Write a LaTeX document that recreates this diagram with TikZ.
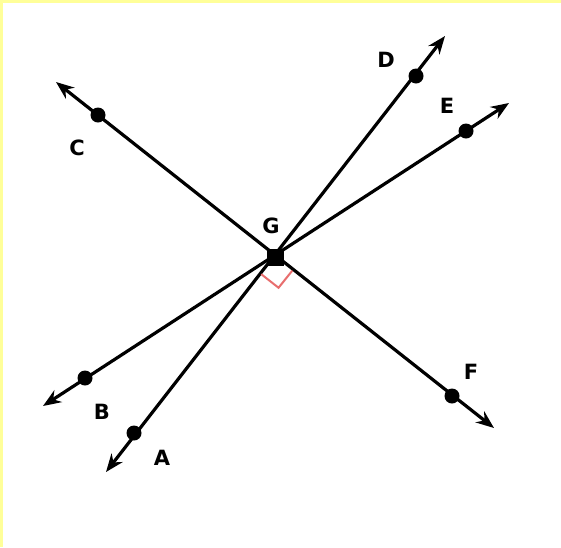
\documentclass[tikz,border=0pt]{standalone}
\usepackage{fontspec}
\setsansfont{DejaVu Sans}
\usepackage{xcolor}
\usepackage{tikz}
\usetikzlibrary{arrows.meta,calc}

\definecolor{frame}{RGB}{255,255,153}
\definecolor{rmark}{RGB}{232,110,110}

\begin{document}
\begin{tikzpicture}[x=1pt,y=-1pt,>={Stealth[length=18pt,width=14pt]}]
  \tikzstyle{ray}=[draw,line width=3.2pt,<->]
  \tikzstyle{dot}=[circle,fill=black,inner sep=0pt,minimum size=15pt]
  \tikzstyle{lbl}=[font=\sffamily\bfseries\fontsize{21}{23}\selectfont,inner sep=0pt]
  % background and yellow frame
  \fill[white] (0,0) rectangle (561,547);
  \fill[frame] (0,0) rectangle (561,3);
  \fill[frame] (0,0) rectangle (3,547);
  \useasboundingbox (0,0) rectangle (561,547);
  % arrow ends
  \coordinate (tC) at (56,82);
  \coordinate (tF) at (494,428);
  \coordinate (tD) at (445,36);
  \coordinate (tA) at (106,472);
  \coordinate (tE) at (509,103);
  \coordinate (tB) at (43,406);
  \draw[ray] (tC) -- (tF);
  \draw[ray] (tA) -- (tD);
  \draw[ray] (tB) -- (tE);
  % points
  \node[fill=black,minimum size=17pt,inner sep=0pt] (G) at (275,257) {};
  \node[dot] (C) at (98,115) {};
  \node[dot] (D) at (416,76) {};
  \node[dot] (E) at (466,131) {};
  \node[dot] (F) at (452,396) {};
  \node[dot] (B) at (85,378) {};
  \node[dot] (A) at (134,433) {};
  % right angle
  \coordinate (ra1) at ($(G)!22pt!(A)$);
  \coordinate (ra2) at ($(G)!22pt!(F)$);
  \draw[rmark,line width=2pt] (ra1) -- ($(ra1)+(ra2)-(G)$) -- (ra2);
  % labels
  \node[lbl] (lG) at (271,226) {G};
  \node[lbl] (lC) at (77,148) {C};
  \node[lbl] (lD) at (386,60) {D};
  \node[lbl] (lE) at (447,106) {E};
  \node[lbl] (lF) at (471,372) {F};
  \node[lbl] (lB) at (102,412) {B};
  \node[lbl] (lA) at (162,458) {A};
\end{tikzpicture}
\end{document}
